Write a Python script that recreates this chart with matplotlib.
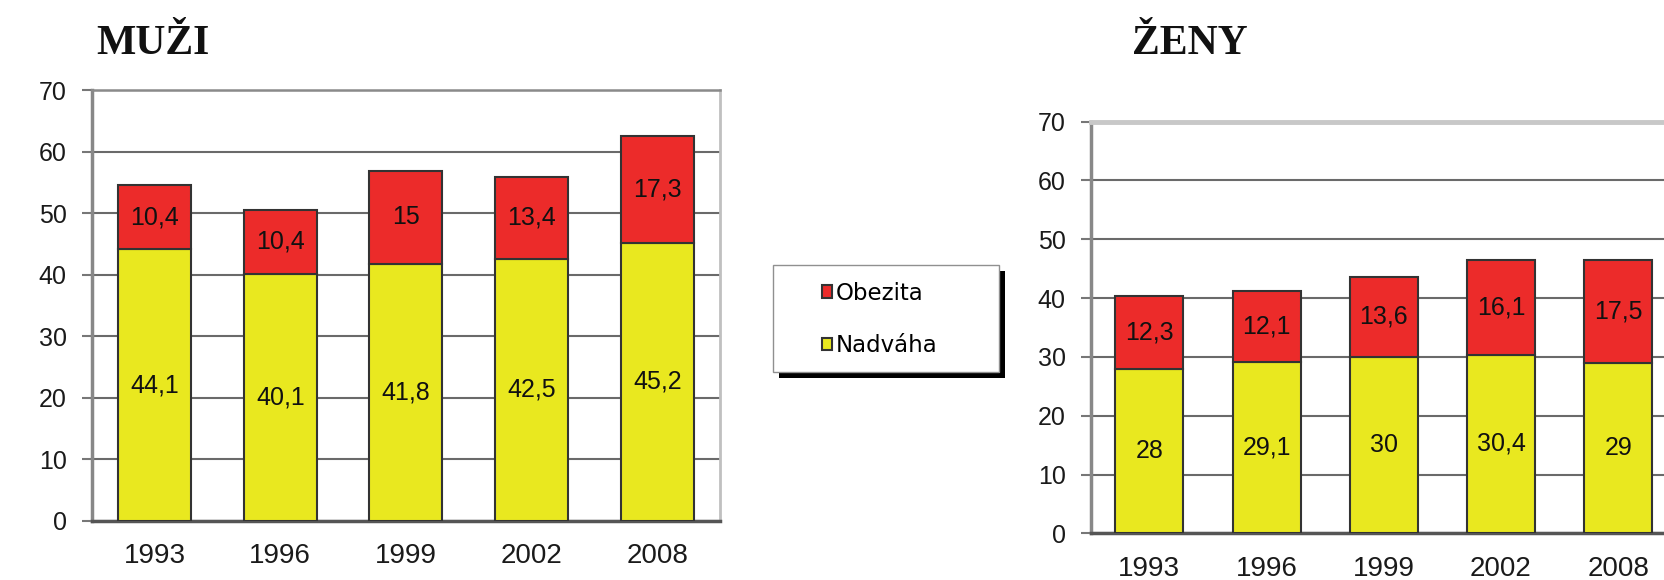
import matplotlib
matplotlib.use('Agg')
import matplotlib.pyplot as plt
from matplotlib.patches import Rectangle

plt.rcParams['font.family'] = ['Liberation Sans', 'DejaVu Sans']

# Data
years = ['1993', '1996', '1999', '2002', '2008']
muzi_nadvaha = [44.1, 40.1, 41.8, 42.5, 45.2]
muzi_obezita = [10.4, 10.4, 15, 13.4, 17.3]
zeny_nadvaha = [28, 29.1, 30, 30.4, 29]
zeny_obezita = [12.3, 12.1, 13.6, 16.1, 17.5]

red = '#EC2B2A'
yellow = '#E9E81F'
edge = '#333333'


def fmt(v):
    return f'{v:g}'.replace('.', ',')


def draw(ax, nadvaha, obezita, top_color, top_lw):
    x = range(len(years))
    b1 = ax.bar(x, nadvaha, width=0.58, color=yellow, edgecolor=edge, linewidth=1.5, zorder=3)
    b2 = ax.bar(x, obezita, width=0.58, bottom=nadvaha, color=red, edgecolor=edge, linewidth=1.5, zorder=3)
    ax.bar_label(b1, labels=[fmt(v) for v in nadvaha], label_type='center', fontsize=18, color='#111111')
    ax.bar_label(b2, labels=[fmt(v) for v in obezita], label_type='center', fontsize=18, color='#111111')
    ax.set_xlim(-0.5, 4.5)
    ax.set_ylim(0, 70)
    ax.set_yticks(range(0, 80, 10))
    ax.set_xticks(list(x))
    ax.set_xticklabels(years)
    ax.yaxis.grid(True, color='#6a6a6a', linewidth=1.5)
    ax.set_axisbelow(True)
    ax.tick_params(axis='y', length=7, width=1.5, color='#777777', pad=11, labelsize=18, labelcolor='#1a1a1a')
    ax.tick_params(axis='x', length=0, pad=16, labelsize=20, labelcolor='#1a1a1a')
    ax.spines['left'].set_color('#888888')
    ax.spines['left'].set_linewidth(2.5)
    ax.spines['bottom'].set_color('#555555')
    ax.spines['bottom'].set_linewidth(2.5)
    ax.spines['top'].set_color(top_color)
    ax.spines['top'].set_linewidth(top_lw)
    ax.spines['right'].set_color('#c0c0c0')
    ax.spines['right'].set_linewidth(2)
    return b1, b2


fig = plt.figure(figsize=(16.65, 5.8), dpi=100)
axL = fig.add_axes([0.0551, 0.1022, 0.3774, 0.7426])
axR = fig.add_axes([0.6551, 0.0805, 0.3520, 0.7097])

bn, bo = draw(axL, muzi_nadvaha, muzi_obezita, '#8a8a8a', 1.8)
draw(axR, zeny_nadvaha, zeny_obezita, '#c8c8c8', 3.5)

fig.text(96 / 1665, 1 - 54 / 580, 'MUŽI', family='Liberation Serif', weight='bold',
         fontsize=30, color='#111111', ha='left', va='baseline')
fig.text(1132 / 1665, 1 - 54 / 580, 'ŽENY', family='Liberation Serif', weight='bold',
         fontsize=30, color='#111111', ha='left', va='baseline')

# legend box with shadow
fig.add_artist(Rectangle((779 / 1665, 1 - 378 / 580), 226 / 1665, 107 / 580,
                         transform=fig.transFigure, facecolor='black', edgecolor='none'))
fig.add_artist(Rectangle((773 / 1665, 1 - 372 / 580), 226 / 1665, 107 / 580,
                         transform=fig.transFigure, facecolor='white', edgecolor='#909090', linewidth=1))
fig.legend([bo, bn], ['Obezita', 'Nadváha'], loc='center left',
           bbox_to_anchor=(822 / 1665, 1 - 319.5 / 580), bbox_transform=fig.transFigure,
           frameon=False, borderpad=0, borderaxespad=0, handlelength=0.45, handleheight=0.45,
           handletextpad=0.15, labelspacing=1.3, prop={'family': 'DejaVu Sans', 'size': 16.5})

fig.savefig('out.png', dpi=100)
